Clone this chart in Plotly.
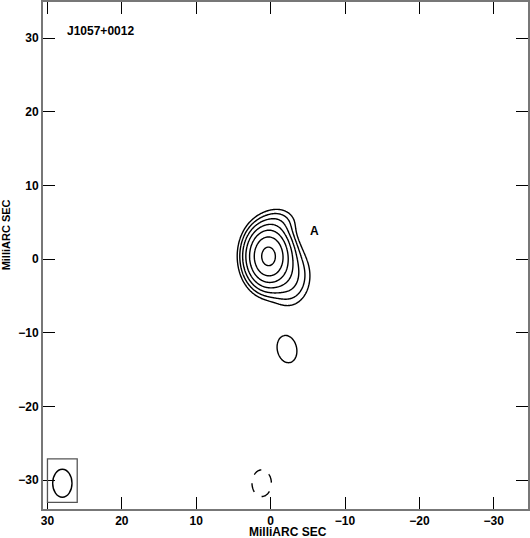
import numpy as np
import plotly.graph_objects as go

# Gaussian model components (mas): RA offset, Dec offset, peak (in units of lowest contour), sigma x, sigma y, rotation (deg)
comp_x = [0.3, -2.4, -1.2, -2.2, 1.2]
comp_y = [0.4, -2.3, 5.0, -12.2, -30.4]
comp_peak = [78.0, 5.0, 2.2, 1.9, -1.9]
comp_sx = [1.42, 1.6, 1.4, 1.15, 1.15]
comp_sy = [1.95, 2.2, 1.2, 1.65, 1.6]
comp_pa = [0.0, 0.0, 0.0, -12.0, 0.0]

# contour levels (multiples of lowest level)
pos_levels = [1, 2, 4, 8, 16, 32, 64]
neg_levels = [-1]

# restoring beam
beam_x = [28.0]
beam_y = [-30.4]
beam_major = [3.8]
beam_minor = [2.6]
beam_box_x = [30.0, 26.0]
beam_box_y = [-27.1, -33.0]

xticks = [30, 20, 10, 0, -10, -20, -30]
yticks = [-30, -20, -10, 0, 10, 20, 30]


def model(xg, yg):
    z = np.zeros_like(xg)
    for x0, y0, p, sx, sy, pa in zip(comp_x, comp_y, comp_peak, comp_sx, comp_sy, comp_pa):
        t = np.radians(pa)
        dx = (xg - x0) * np.cos(t) + (yg - y0) * np.sin(t)
        dy = -(xg - x0) * np.sin(t) + (yg - y0) * np.cos(t)
        z += p * np.exp(-0.5 * ((dx / sx) ** 2 + (dy / sy) ** 2))
    return z


font = dict(family="Liberation Sans", size=12, color="black", weight="bold")

fig = go.Figure()

# positive contours, drawn on log2 so the doubling levels are evenly spaced
xs = np.arange(-9, 9.01, 0.1)
ys = np.arange(-17, 10.01, 0.1)
X, Y = np.meshgrid(xs, ys)
Z = model(X, Y)
fig.add_trace(go.Contour(
    x=xs, y=ys, z=np.log2(np.clip(Z, 1e-3, None)),
    contours=dict(coloring="lines", start=np.log2(pos_levels[0]), end=np.log2(pos_levels[-1]), size=1),
    colorscale=[[0, "black"], [1, "black"]], showscale=False,
    line=dict(width=1.4), hoverinfo="skip"))

# negative contour (dashed)
xs2 = np.arange(-4, 6.01, 0.1)
ys2 = np.arange(-36, -25.99, 0.1)
X2, Y2 = np.meshgrid(xs2, ys2)
Z2 = model(X2, Y2)
fig.add_trace(go.Contour(
    x=xs2, y=ys2, z=np.log2(np.clip(-Z2, 1e-3, None)),
    contours=dict(coloring="lines", start=np.log2(-neg_levels[0]), end=np.log2(-neg_levels[0]), size=1),
    colorscale=[[0, "black"], [1, "black"]], showscale=False,
    line=dict(width=1.4, dash="dash"), hoverinfo="skip"))

# beam and its box
fig.add_shape(type="rect", x0=beam_box_x[0], x1=beam_box_x[1], y0=beam_box_y[0], y1=beam_box_y[1],
              line=dict(color="#555555", width=1.3))
fig.add_shape(type="circle", x0=beam_x[0] + beam_minor[0] / 2, x1=beam_x[0] - beam_minor[0] / 2,
              y0=beam_y[0] - beam_major[0] / 2, y1=beam_y[0] + beam_major[0] / 2,
              line=dict(color="black", width=1.4))

fig.add_annotation(x=27.7, y=30.9, text="J1057+0012", showarrow=False, xanchor="left", font=font)
fig.add_annotation(x=-5.9, y=3.8, text="A", showarrow=False, font=font)

axis = dict(ticks="inside", ticklen=12, tickwidth=1, tickcolor="black", showline=True, linecolor="#777777",
            linewidth=2, mirror="ticks", showgrid=False, zeroline=False, tickfont=font)
fig.update_xaxes(range=[30.6, -34.6], tickvals=xticks, **axis)
fig.update_yaxes(range=[-33.9, 34.9], tickvals=yticks, **axis)

fig.add_annotation(xref="paper", yref="paper", x=0.506, y=-0.046, text="MilliARC SEC", showarrow=False,
                   yanchor="middle", borderpad=0, font=dict(font, size=12))
fig.add_annotation(xref="paper", yref="paper", x=-0.076, y=0.54, text="MilliARC SEC", showarrow=False,
                   textangle=-90, xanchor="center", yanchor="middle", borderpad=0, font=dict(font, size=11))

fig.update_layout(width=530, height=538, margin=dict(l=43, r=1, t=0, b=29),
                  plot_bgcolor="white", paper_bgcolor="white", showlegend=False)

fig.write_html("out.html", config={"displayModeBar": False},
               post_script="document.body.style.margin='0px';")
